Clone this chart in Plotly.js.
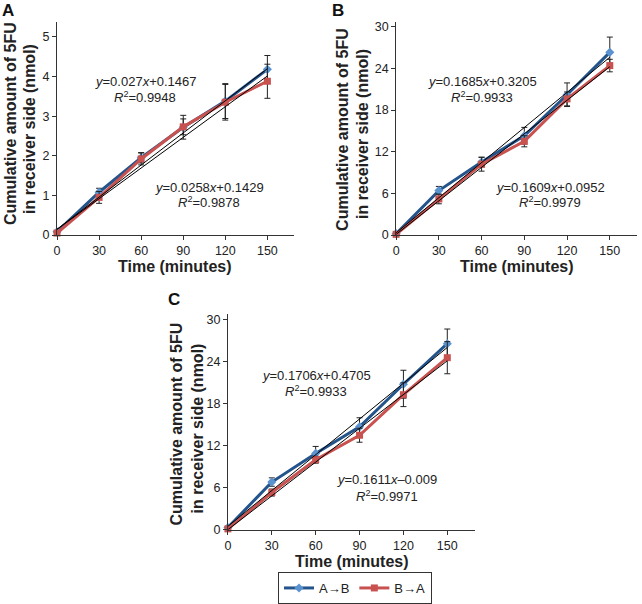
<!DOCTYPE html>
<html>
<head>
<meta charset="utf-8">
<script src="https://cdn.plot.ly/plotly-3.0.1.min.js"></script>
<style>
  html, body { margin: 0; padding: 0; background: #fff; }
  #chart { width: 642px; height: 604px; }
</style>
</head>
<body>
<div id="chart"></div>
<script>
// Cumulative 5FU, 3 panouri (A, B, C), A->B albastru, B->A rosu
const times = [0, 30, 60, 90, 120, 150];

const aAB = [0.08, 1.08, 1.95, 2.72, 3.38, 4.18];
const aABerr = [0, 0.10, 0.13, 0.30, 0.44, 0.35];
const aBA = [0.05, 0.95, 1.92, 2.73, 3.35, 3.88];
const aBAerr = [0, 0.15, 0.15, 0.20, 0.45, 0.43];

const bAB = [0.2, 6.4, 10.5, 14.3, 20.2, 26.3];
const bABerr = [0, 0.6, 0.7, 1.2, 1.7, 2.2];
const bBA = [0.1, 5.2, 10.2, 13.5, 19.6, 24.4];
const bBAerr = [0, 0.7, 1.0, 0.8, 1.0, 0.9];

const cAB = [0.3, 6.8, 10.9, 14.7, 20.8, 26.6];
const cABerr = [0, 0.6, 1.0, 1.3, 2.0, 2.1];
const cBA = [0.1, 5.3, 10.0, 13.5, 19.3, 24.6];
const cBAerr = [0, 0.5, 0.5, 1.0, 1.7, 2.3];

// capetele dreptelor de regresie (x=0, x=150), din ecuatiile afisate
const trendX = [0, 150];
const aTrendAB = [0.1467, 4.1967];
const aTrendBA = [0.1429, 4.0129];
const bTrendAB = [0.3205, 25.5955];
const bTrendBA = [0.0952, 24.2302];
const cTrendAB = [0.4705, 26.0605];
const cTrendBA = [-0.009, 24.156];

const BLUE = '#24548c';
const BLUE_MK = '#5b93d0';
const RED = '#c8524f';
const FONT = 'Liberation Sans, Arial, sans-serif';

function series(y, err, ax, isBlue, showLeg) {
  return {
    x: times, y: y, xaxis: 'x' + ax, yaxis: 'y' + ax,
    type: 'scatter', mode: 'lines+markers',
    name: isBlue ? 'A→B' : 'B→A',
    legendgroup: isBlue ? 'ab' : 'ba',
    showlegend: showLeg,
    line: { color: isBlue ? BLUE : RED, width: 3 },
    marker: isBlue ? { symbol: 'diamond', size: 7, color: BLUE_MK }
                   : { symbol: 'square', size: 7, color: RED },
    error_y: { type: 'data', array: err, visible: true, color: '#222', thickness: 1, width: 3 },
    cliponaxis: false,
  };
}

function trend(y, ax) {
  return {
    x: trendX, y: y, xaxis: 'x' + ax, yaxis: 'y' + ax,
    type: 'scatter', mode: 'lines', showlegend: false, hoverinfo: 'skip',
    line: { color: '#000', width: 1 },
  };
}

const traces = [
  series(aAB, aABerr, '', true, true), series(aBA, aBAerr, '', false, true),
  trend(aTrendAB, ''), trend(aTrendBA, ''),
  series(bAB, bABerr, '2', true, false), series(bBA, bBAerr, '2', false, false),
  trend(bTrendAB, '2'), trend(bTrendBA, '2'),
  series(cAB, cABerr, '3', true, false), series(cBA, cBAerr, '3', false, false),
  trend(cTrendAB, '3'), trend(cTrendBA, '3'),
];

const tickFont = { family: FONT, size: 12.5, color: '#222' };

function xax(domain, anchor) {
  return {
    domain: domain, anchor: anchor, range: [0, 169],
    tickvals: times, ticks: 'outside', ticklen: 4, tickcolor: '#333',
    showline: true, linecolor: '#333', linewidth: 1, showgrid: false, zeroline: false,
    tickfont: tickFont,
  };
}
function yax(domain, anchor, range, dtick) {
  return {
    domain: domain, anchor: anchor, range: range, dtick: dtick, tick0: 0,
    ticks: 'outside', ticklen: 4, tickcolor: '#333',
    showline: true, linecolor: '#333', linewidth: 1, showgrid: false, zeroline: false,
    tickfont: tickFont,
  };
}

function px(x) { return x / 642; }
function py(y) { return 1 - y / 604; }

function note(text, x, y) {
  return { text: text, x: px(x), y: py(y), xref: 'paper', yref: 'paper',
           showarrow: false, font: { family: FONT, size: 13, color: '#222' },
           xanchor: 'center', yanchor: 'middle' };
}
function letter(t, x, y) {
  return { text: '<b>' + t + '</b>', x: px(x), y: py(y), xref: 'paper', yref: 'paper',
           showarrow: false, xanchor: 'left', yanchor: 'middle',
           font: { family: FONT, size: 17, color: '#111' } };
}
function xTitle(x, y) {
  return { text: '<b>Time (minutes)</b>', x: px(x), y: py(y), xref: 'paper', yref: 'paper',
           showarrow: false, xanchor: 'center', yanchor: 'middle',
           font: { family: FONT, size: 16, color: '#222' } };
}
function yTitle(text, x, y) {
  return { text: '<b>' + text + '</b>', x: px(x), y: py(y), xref: 'paper', yref: 'paper',
           showarrow: false, xanchor: 'center', yanchor: 'middle', textangle: -90,
           font: { family: FONT, size: 16, color: '#222' } };
}
const Y1 = 'Cumulative amount of 5FU';
const Y2 = 'in receiver side (nmol)';

const layout = {
  width: 642, height: 604,
  margin: { l: 0, r: 0, t: 0, b: 0 },
  paper_bgcolor: '#fff', plot_bgcolor: '#fff',
  xaxis: xax([0.0888, 0.458], 'y'),
  yaxis: yax([0.6076, 0.9636], 'x', [0, 5.38], 1),
  xaxis2: xax([0.617, 0.992], 'y2'),
  yaxis2: yax([0.6076, 0.9636], 'x2', [0, 30.7], 6),
  xaxis3: xax([0.355, 0.740], 'y3'),
  yaxis3: yax([0.1159, 0.4752], 'x3', [0, 30.8], 6),
  showlegend: true,
  legend: {
    orientation: 'h', x: px(278), y: py(577), xanchor: 'left', yanchor: 'top',
    bordercolor: '#333', borderwidth: 1, bgcolor: '#fff',
    font: { family: FONT, size: 13, color: '#222' },
    traceorder: 'normal', itemwidth: 30,
  },
  annotations: [
    letter('A', 0, 11), letter('B', 330, 11), letter('C', 166, 302),
    xTitle(175, 269), xTitle(517, 269), xTitle(352, 566),
    yTitle(Y1, 11, 125), yTitle(Y2, 30, 130),
    yTitle(Y1, 343, 131), yTitle(Y2, 363, 135),
    yTitle(Y1, 176, 427), yTitle(Y2, 197, 432),
    note('<i>y</i>=0.027<i>x</i>+0.1467', 145, 82),
    note('<i>R</i><sup>2</sup>=0.9948', 145, 98),
    note('<i>y</i>=0.0258<i>x</i>+0.1429', 209, 189),
    note('<i>R</i><sup>2</sup>=0.9878', 209, 204),
    note('<i>y</i>=0.1685<i>x</i>+0.3205', 482, 82),
    note('<i>R</i><sup>2</sup>=0.9933', 482, 98),
    note('<i>y</i>=0.1609<i>x</i>+0.0952', 550, 189),
    note('<i>R</i><sup>2</sup>=0.9979', 550, 204),
    note('<i>y</i>=0.1706<i>x</i>+0.4705', 316, 379),
    note('<i>R</i><sup>2</sup>=0.9933', 316, 394),
    note('<i>y</i>=0.1611<i>x</i>–0.009', 387, 484),
    note('<i>R</i><sup>2</sup>=0.9971', 387, 500),
  ],
};

Plotly.newPlot('chart', traces, layout, { displayModeBar: false, staticPlot: true });
</script>
</body>
</html>
